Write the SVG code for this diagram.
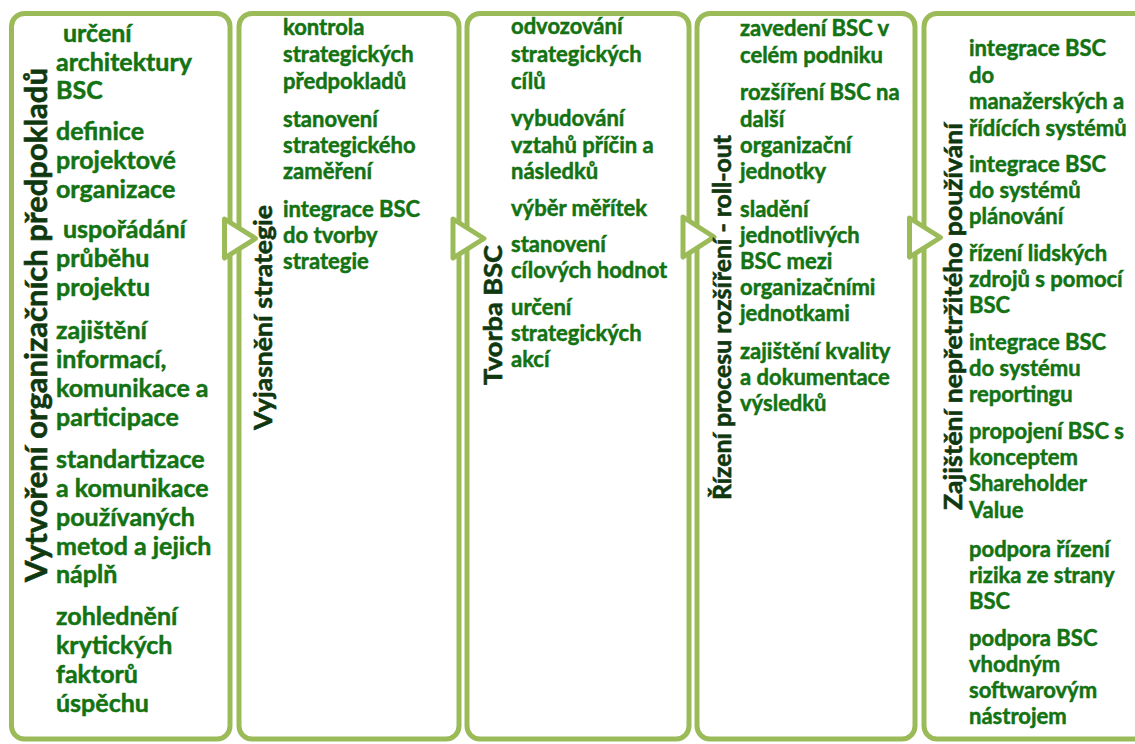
<svg xmlns="http://www.w3.org/2000/svg" width="1135" height="744" viewBox="0 0 1135 744">
  <style>
    .box { fill: #ffffff; stroke: #9BBB59; stroke-width: 5; }
    .arrow { fill: #ffffff; stroke: #9BBB59; stroke-width: 5; stroke-linejoin: round; }
    .title { font-family: Lato, "Liberation Sans", sans-serif; font-weight: bold; fill: #103810; stroke: #103810; stroke-width: 0.6; }
    .item { font-family: Lato, "Liberation Sans", sans-serif; font-weight: bold; fill: #137313; stroke: #137313; stroke-width: 0.5; }
    .c1 { font-size: 25px; }
    .cs { font-size: 22px; }
  </style>
  <rect width="1135" height="744" fill="#ffffff"/>

  <!-- phase boxes -->
  <g id="phase-1">
    <rect class="box" x="11.5" y="13.5" width="218.5" height="725.5" rx="13"/>
  </g>
  <g id="phase-2">
    <rect class="box" x="239" y="13.5" width="220" height="725.5" rx="13"/>
  </g>
  <g id="phase-3">
    <rect class="box" x="467" y="13.5" width="222" height="725.5" rx="13"/>
  </g>
  <g id="phase-4">
    <rect class="box" x="697" y="13.5" width="218" height="725.5" rx="13"/>
  </g>
  <g id="phase-5">
    <rect class="box" x="924" y="13.5" width="250" height="725.5" rx="13"/>
  </g>

  <!-- arrows between phases -->
  <g id="connectors">
    <polygon class="arrow" points="224.5,219 255.5,238.5 224.5,258"/>
    <polygon class="arrow" points="453,219 484,238.5 453,258"/>
    <polygon class="arrow" points="683,217 714,237 683,257"/>
    <polygon class="arrow" points="909.5,218 940.5,237.5 909.5,257"/>
  </g>

  <!-- phase 1 texts -->
  <g id="phase-1-text">
    <text class="title" font-size="30" transform="translate(47,582) rotate(-90)" textLength="514" lengthAdjust="spacingAndGlyphs">Vytvoření organizačních předpokladů</text>
    <g class="item c1">
      <text x="63" y="42">určení</text>
      <text x="56" y="71">architektury</text>
      <text x="56" y="99">BSC</text>
      <text x="56" y="140">definice</text>
      <text x="56" y="169">projektové</text>
      <text x="56" y="198">organizace</text>
      <text x="63" y="238">uspořádání</text>
      <text x="56" y="267">průběhu</text>
      <text x="56" y="296">projektu</text>
      <text x="56" y="339">zajištění</text>
      <text x="56" y="368">informací,</text>
      <text x="56" y="397">komunikace a</text>
      <text x="56" y="426">participace</text>
      <text x="56" y="468">standartizace</text>
      <text x="56" y="497">a komunikace</text>
      <text x="56" y="526">používaných</text>
      <text x="56" y="555">metod a jejich</text>
      <text x="56" y="583">náplň</text>
      <text x="56" y="625">zohlednění</text>
      <text x="56" y="654">krytických</text>
      <text x="56" y="683">faktorů</text>
      <text x="56" y="712">úspěchu</text>
    </g>
  </g>

  <!-- phase 2 texts -->
  <g id="phase-2-text">
    <text class="title" font-size="25" transform="translate(272,430) rotate(-90)" textLength="225" lengthAdjust="spacingAndGlyphs">Vyjasnění strategie</text>
    <g class="item cs">
      <text x="283" y="35">kontrola</text>
      <text x="283" y="62">strategických</text>
      <text x="283" y="89">předpokladů</text>
      <text x="283" y="127">stanovení</text>
      <text x="283" y="153">strategického</text>
      <text x="283" y="179">zaměření</text>
      <text x="283" y="217">integrace BSC</text>
      <text x="283" y="243">do tvorby</text>
      <text x="283" y="269">strategie</text>
    </g>
  </g>

  <!-- phase 3 texts -->
  <g id="phase-3-text">
    <text class="title" font-size="25" transform="translate(502,385) rotate(-90)" textLength="140" lengthAdjust="spacingAndGlyphs">Tvorba BSC</text>
    <g class="item cs">
      <text x="511" y="34">odvozování</text>
      <text x="511" y="62">strategických</text>
      <text x="511" y="89">cílů</text>
      <text x="511" y="126">vybudování</text>
      <text x="511" y="153">vztahů příčin a</text>
      <text x="511" y="179">následků</text>
      <text x="511" y="216">výběr měřítek</text>
      <text x="511" y="252">stanovení</text>
      <text x="511" y="278">cílových hodnot</text>
      <text x="511" y="315">určení</text>
      <text x="511" y="341">strategických</text>
      <text x="511" y="367">akcí</text>
    </g>
  </g>

  <!-- phase 4 texts -->
  <g id="phase-4-text">
    <text class="title" font-size="25" transform="translate(731,500) rotate(-90)" textLength="365" lengthAdjust="spacingAndGlyphs">Řízení procesu rozšíření - roll-out</text>
    <g class="item cs">
      <text x="740" y="36">zavedení BSC v</text>
      <text x="740" y="63">celém podniku</text>
      <text x="740" y="100">rozšíření BSC na</text>
      <text x="740" y="127">další</text>
      <text x="740" y="153">organizační</text>
      <text x="740" y="179">jednotky</text>
      <text x="740" y="217">sladění</text>
      <text x="740" y="243">jednotlivých</text>
      <text x="740" y="269">BSC mezi</text>
      <text x="740" y="295">organizačními</text>
      <text x="740" y="321">jednotkami</text>
      <text x="740" y="359">zajištění kvality</text>
      <text x="740" y="385">a dokumentace</text>
      <text x="740" y="411">výsledků</text>
    </g>
  </g>

  <!-- phase 5 texts -->
  <g id="phase-5-text">
    <text class="title" font-size="25" transform="translate(962,510) rotate(-90)" textLength="387" lengthAdjust="spacingAndGlyphs">Zajištění nepřetržitého používání</text>
    <g class="item cs">
      <text x="969" y="56">integrace BSC</text>
      <text x="969" y="83">do</text>
      <text x="969" y="109">manažerských a</text>
      <text x="969" y="136">řídících systémů</text>
      <text x="969" y="172">integrace BSC</text>
      <text x="969" y="198">do systémů</text>
      <text x="969" y="224">plánování</text>
      <text x="969" y="261">řízení lidských</text>
      <text x="969" y="287">zdrojů s pomocí</text>
      <text x="969" y="313">BSC</text>
      <text x="969" y="350">integrace BSC</text>
      <text x="969" y="376">do systému</text>
      <text x="969" y="402">reportingu</text>
      <text x="969" y="439">propojení BSC s</text>
      <text x="969" y="465">konceptem</text>
      <text x="969" y="491">Shareholder</text>
      <text x="969" y="518">Value</text>
      <text x="969" y="557">podpora řízení</text>
      <text x="969" y="583">rizika ze strany</text>
      <text x="969" y="609">BSC</text>
      <text x="969" y="646">podpora BSC</text>
      <text x="969" y="672">vhodným</text>
      <text x="969" y="698">softwarovým</text>
      <text x="969" y="724">nástrojem</text>
    </g>
  </g>
</svg>
